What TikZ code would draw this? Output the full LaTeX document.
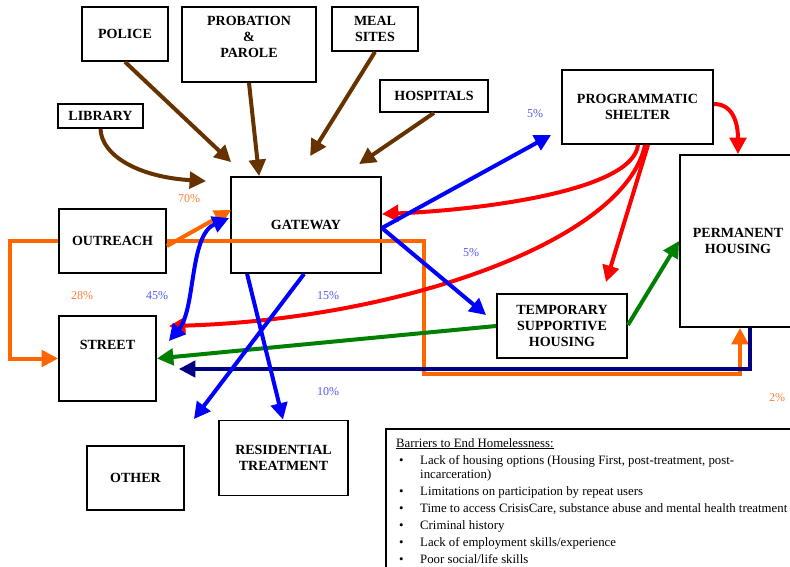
\documentclass[tikz,border=0pt]{standalone}
\usepackage{fontspec}
\setmainfont{Liberation Serif}
\usetikzlibrary{arrows.meta}

\definecolor{flowbrown}{RGB}{102,51,0}
\definecolor{floworange}{RGB}{255,102,0}
\definecolor{flownavy}{RGB}{0,0,128}
\definecolor{flowgreen}{RGB}{0,128,0}
\definecolor{flowred}{RGB}{255,0,0}
\definecolor{flowblue}{RGB}{0,0,255}
\definecolor{pctorange}{RGB}{255,125,60}
\definecolor{pctblue}{RGB}{85,85,255}

\newcommand\boxfont{\fontsize{14}{16}\selectfont\bfseries}
\newcommand\pctfont{\fontsize{12}{13}\selectfont}
\newcommand\notefont{\fontsize{12.8}{14}\selectfont}

\tikzset{
  box/.style={draw=black, line width=1.8pt, fill=white, inner sep=0pt,
    font=\boxfont, align=center},
  boxtext/.style={inner sep=0pt, font=\boxfont, align=center},
  flow/.style={line width=4pt, -{Triangle[length=16.5pt,width=16.5pt]}},
  twoway/.style={line width=4pt, {Triangle[length=16.5pt,width=16.5pt]}-{Triangle[length=16.5pt,width=16.5pt]}},
  pct/.style={inner sep=0pt, font=\pctfont},
}

\begin{document}
\begin{tikzpicture}[x=1pt,y=-1pt]
\useasboundingbox (0,0) rectangle (790,567);

% ---- referral sources ----
\node[box, minimum width=86pt, minimum height=54pt] (police) at (125,34) {POLICE};
\node[box, minimum width=134pt, minimum height=75pt] (probation) at (249,44.5) {};
\node[boxtext] (probationtxt) at (249,37) {PROBATION\\\&\\PAROLE};
\node[box, minimum width=86pt, minimum height=44pt] (meal) at (375,29) {MEAL\\SITES};
\node[box, minimum width=108pt, minimum height=32pt] (hosp) at (434,96) {HOSPITALS};
\node[box, minimum width=85pt, minimum height=24pt] (library) at (100.5,116) {LIBRARY};

% ---- service nodes ----
\node[box, minimum width=150pt, minimum height=96pt] (gateway) at (306,225) {GATEWAY};
\node[box, minimum width=107pt, minimum height=64pt] (outreach) at (112.5,241) {OUTREACH};
\node[box, minimum width=97pt, minimum height=85pt] (street) at (107.5,358.5) {};
\node[boxtext] (streettxt) at (107.5,345) {STREET};
\node[box, minimum width=151pt, minimum height=74pt] (prog) at (637.5,107) {PROGRAMMATIC\\SHELTER};
\node[box, minimum width=116pt, minimum height=172pt] (perm) at (738,241) {PERMANENT\\HOUSING};
\node[box, minimum width=130pt, minimum height=64pt] (temp) at (562,326) {TEMPORARY\\SUPPORTIVE\\HOUSING};
\node[box, minimum width=129pt, minimum height=75pt] (resid) at (283.5,458) {RESIDENTIAL\\TREATMENT};
\node[box, minimum width=97pt, minimum height=64pt] (other) at (135.5,478) {OTHER};

% ---- barriers panel ----
\node[draw=black, line width=1.8pt, anchor=north west, minimum width=430pt,
  minimum height=160pt, inner sep=0pt] (barriers) at (385,428) {};
\node[anchor=north west, inner sep=0pt, font=\notefont, align=left] (barriertxt)
  at (396,438) {%
  \underline{Barriers to End Homelessness:}\\[3pt]
  \makebox[24pt][l]{\hspace{3pt}\textbullet}Lack of housing options (Housing First, post-treatment, post-\\
  \hspace*{24pt}incarceration)\\[3pt]
  \makebox[24pt][l]{\hspace{3pt}\textbullet}Limitations on participation by repeat users\\[3pt]
  \makebox[24pt][l]{\hspace{3pt}\textbullet}Time to access CrisisCare, substance abuse and mental health treatment\\[3pt]
  \makebox[24pt][l]{\hspace{3pt}\textbullet}Criminal history\\[3pt]
  \makebox[24pt][l]{\hspace{3pt}\textbullet}Lack of employment skills/experience\\[3pt]
  \makebox[24pt][l]{\hspace{3pt}\textbullet}Poor social/life skills};

% ---- referrals into the gateway ----
\draw[flow, flowbrown] (police.south) -- ([shift={(1,-14)}]gateway.north west);
\draw[flow, flowbrown] (probation.south) -- ([shift={(29,0)}]gateway.north west);
\draw[flow, flowbrown] (meal.south) -- ([shift={(80,-20)}]gateway.north west);
\draw[flow, flowbrown] (hosp.south) -- ([shift={(129,-12)}]gateway.north west);
\draw[flow, flowbrown] (library.south) .. controls +(1,27) and +(-67,-4) ..
  ([shift={(-24,5)}]gateway.north west);

% ---- outreach ----
\draw[flow, floworange] ([yshift=-5]outreach.east) -- ([shift={(1,-15)}]gateway.west);
\draw[flow, floworange] (outreach.east) -- ++(257,0) -- ++(0,133) -| ([xshift=2]perm.south);
\draw[flow, floworange] (outreach.west) -- ++(-48,0) |- (street.west);

% ---- returns to the street ----
\draw[flow, flownavy, line width=3.2pt] ([xshift=12]perm.south) |- ([shift={(22,10.5)}]street.east);
\draw[flow, flowgreen] (temp.west) -- (street.east);
\draw[flow, flowgreen] ([yshift=1]temp.east) -- (perm.west);

% ---- shelter exits ----
\draw[flow, flowred] ([yshift=3]prog.east) .. controls +(22,0) and +(0,-25) .. (perm.north);
\draw[flow, flowred] ([xshift=0.5]prog.south) .. controls +(-5,46) and +(99,-4) ..
  ([yshift=11]gateway.east);
\draw[flow, flowred] ([xshift=7.5]prog.south) .. controls +(-20,96) and +(232,-7) ..
  ([shift={(12,11)}]street.north east);
\draw[flow, flowred] ([xshift=10.5]prog.south) -- ([shift={(44,-11)}]temp.north);

% ---- gateway exits ----
\draw[flow, flowblue] ([yshift=-3]gateway.east) -- ([shift={(-10,-10)}]prog.south west);
\draw[flow, flowblue] ([yshift=-3]gateway.east) -- ([shift={(-10,22)}]temp.north west);
\draw[twoway, flowblue] ([shift={(-1,-7)}]gateway.west) .. controls +(-40,17) and +(27,-32) ..
  ([shift={(12,26)}]street.north east);
\draw[flow, flowblue] ([xshift=17]gateway.south west) -- ([xshift=-0.5]resid.north);
\draw[flow, flowblue] ([xshift=74]gateway.south west) -- ([shift={(9,-26)}]other.north east);

% ---- shares ----
\node[pct, text=pctorange] (p70) at (189,199) {70\%};
\node[pct, text=pctorange] (p28) at (82,296) {28\%};
\node[pct, text=pctblue] (p45) at (157,296) {45\%};
\node[pct, text=pctblue] (p15) at (328,296) {15\%};
\node[pct, text=pctblue] (p10) at (328,392) {10\%};
\node[pct, text=pctblue] (p5a) at (535,114) {5\%};
\node[pct, text=pctblue] (p5b) at (471,253) {5\%};
\node[pct, text=pctorange] (p2) at (777,398) {2\%};
\end{tikzpicture}
\end{document}
